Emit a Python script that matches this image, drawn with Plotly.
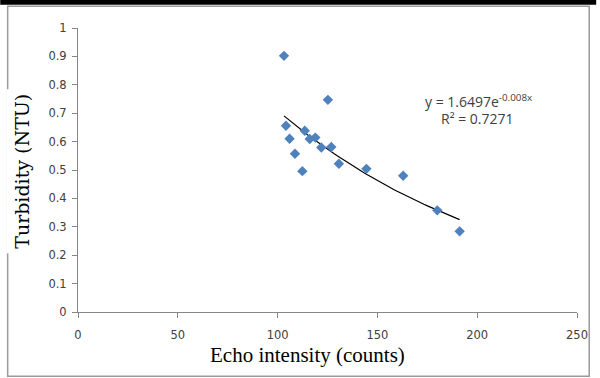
import numpy as np
import plotly.graph_objects as go

# Data
echo_intensity = [103.2, 125.2, 104.2, 106.0, 108.7, 112.4, 113.6, 116.1,
                  118.9, 121.9, 126.9, 130.7, 144.5, 162.9, 180.0, 191.2]
turbidity = [0.902, 0.747, 0.656, 0.610, 0.557, 0.496, 0.638, 0.609,
             0.614, 0.579, 0.581, 0.522, 0.504, 0.480, 0.358, 0.284]
x_ticks = [0, 50, 100, 150, 200, 250]
y_ticks = [0, 0.1, 0.2, 0.3, 0.4, 0.5, 0.6, 0.7, 0.8, 0.9, 1]
eq_text = "y = 1.6497e<sup>-0.008x</sup>"
r2_text = "R² = 0.7271"

# Exponential trendline (least squares on ln y, like a spreadsheet trendline)
b, ln_a = np.polyfit(np.array(echo_intensity), np.log(np.array(turbidity)), 1)
tx = np.linspace(min(echo_intensity), max(echo_intensity), 60)
ty = np.exp(ln_a) * np.exp(b * tx)

W, H = 600, 378
L, R, T, B = 78.3, 600 - 580.7, 28.3, 378 - 312.3
pw, ph = W - L - R, H - T - B


def px(xp):
    return (xp - L) / pw


def py(yp):
    return (H - B - yp) / ph


fig = go.Figure()
fig.add_trace(go.Scatter(x=tx, y=ty, mode="lines",
                         line=dict(color="black", width=1.2),
                         hoverinfo="skip", showlegend=False))
fig.add_trace(go.Scatter(x=echo_intensity, y=turbidity, mode="markers",
                         marker=dict(symbol="diamond", size=8, color="#4F81BD"),
                         showlegend=False))

axis_common = dict(showgrid=False, zeroline=False, showline=True,
                   linecolor="#868686", linewidth=1, ticks="outside",
                   ticklen=5, tickcolor="#868686",
                   tickfont=dict(family="DejaVu Sans", size=11.5, color="#404040"))
fig.update_xaxes(range=[0, 250], tickvals=x_ticks, ticktext=[str(v) for v in x_ticks],
                 ticklabelstandoff=7, **axis_common)
fig.update_yaxes(range=[0, 1], tickvals=y_ticks, ticktext=[f"{v:g}" for v in y_ticks],
                 ticklabelstandoff=3, **axis_common)

shapes = [
    dict(type="rect", xref="paper", yref="paper", x0=px(0), x1=px(W), y0=py(0), y1=py(5),
         fillcolor="black", line=dict(width=0), layer="above"),
    dict(type="rect", xref="paper", yref="paper", x0=px(7.5), x1=px(593), y0=py(6.5), y1=py(376.5),
         fillcolor="rgba(0,0,0,0)", line=dict(color="#9a9a9a", width=1.5), layer="below"),
]

ann_common = dict(xref="paper", yref="paper", showarrow=False,
                  xanchor="center", yanchor="middle")
annotations = [
    dict(text=eq_text, x=px(481.5), y=py(101),
         font=dict(family="Open Sans", size=14, color="#404040"), **ann_common),
    dict(text=r2_text, x=px(481), y=py(119),
         font=dict(family="Open Sans", size=14, color="#404040"), **ann_common),
    dict(text="Echo intensity (counts)", x=px(309), y=py(355),
         font=dict(family="Liberation Serif", size=21, color="black"), **ann_common),
    dict(text="Turbidity (NTU)", x=px(22), y=py(172), textangle=-90,
         bgcolor="white", borderpad=4,
         font=dict(family="DejaVu Serif", size=19, color="black"), **ann_common),
]

fig.update_layout(width=W, height=H, margin=dict(l=L, r=R, t=T, b=B),
                  paper_bgcolor="white", plot_bgcolor="white",
                  shapes=shapes, annotations=annotations)

fig.write_html("out.html", config={"displayModeBar": False},
               post_script="document.body.style.margin='0';document.body.style.padding='0';")
